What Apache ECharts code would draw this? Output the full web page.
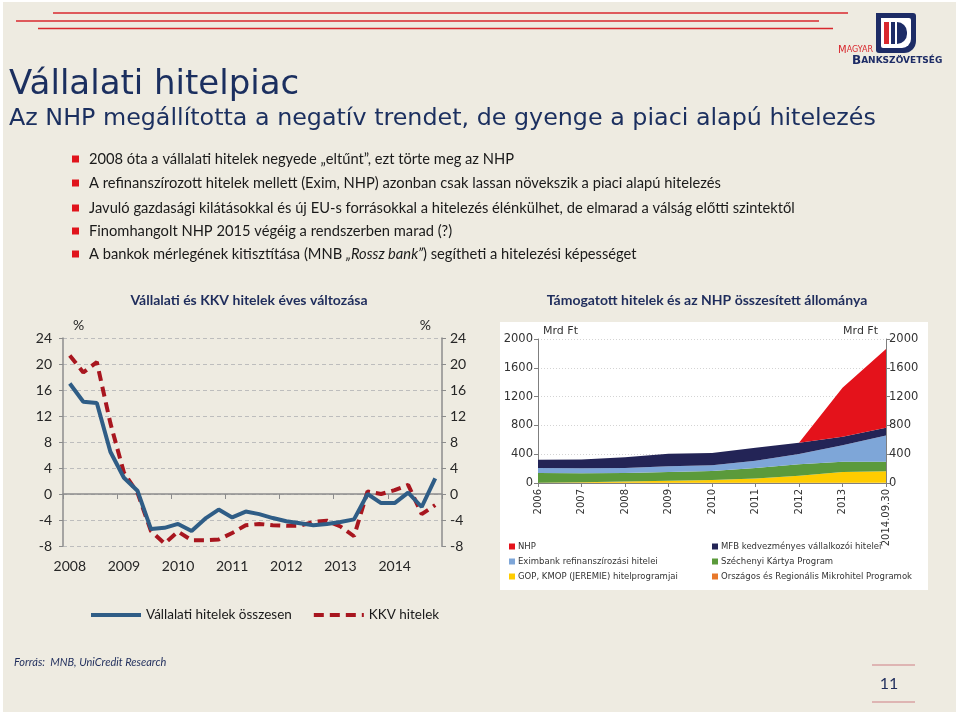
<!DOCTYPE html>
<html>
<head>
<meta charset="utf-8">
<script src="https://cdn.jsdelivr.net/npm/echarts@6/dist/echarts.min.js"></script>
<style>
html,body{margin:0;padding:0;background:#ffffff;}
#wrap{position:relative;width:960px;height:717px;overflow:hidden;}
#slide{position:absolute;left:3px;top:2px;width:953px;height:710px;background:#eeebe1;}
#whitebox{position:absolute;left:500px;top:322px;width:428px;height:268px;background:#ffffff;}
#chart{position:absolute;left:0;top:0;width:960px;height:717px;}
</style>
</head>
<body>
<div id="wrap">
  <div id="slide"></div>
  <div id="whitebox"></div>
  <div id="chart"></div>
</div>
<script>
// ---------- Left chart data (annual change, %) ----------
var quarters = ['2008Q1','2008Q2','2008Q3','2008Q4','2009Q1','2009Q2','2009Q3','2009Q4',
  '2010Q1','2010Q2','2010Q3','2010Q4','2011Q1','2011Q2','2011Q3','2011Q4',
  '2012Q1','2012Q2','2012Q3','2012Q4','2013Q1','2013Q2','2013Q3','2013Q4',
  '2014Q1','2014Q2','2014Q3','2014Q4'];
var totalLoans = [17.0, 14.2, 14.0, 6.5, 2.5, 0.5, -5.4, -5.2, -4.6, -5.7, -3.8, -2.4,
  -3.6, -2.7, -3.1, -3.7, -4.2, -4.5, -4.8, -4.6, -4.3, -3.9, 0.0, -1.4, -1.4, 0.2, -2.0, 2.4];
var smeLoans = [21.3, 18.7, 20.3, 10.9, 3.3, 0.2, -5.7, -7.6, -5.8, -7.1, -7.1, -7.0,
  -6.0, -4.8, -4.6, -4.8, -4.9, -4.9, -4.3, -4.1, -5.0, -6.5, 0.4, 0.0, 0.6, 1.4, -3.1, -1.7];
var leftTicks = [-8, -4, 0, 4, 8, 12, 16, 20, 24];

// ---------- Right chart data (stock, Mrd Ft) ----------
var years = ['2006','2007','2008','2009','2010','2011','2012','2013','2014.09.30'];
var micro     = [2, 2, 2, 2, 2, 2, 2, 2, 2];
var jeremie   = [2, 8, 18, 28, 40, 62, 98, 150, 160];
var szechenyi = [135, 125, 118, 122, 124, 145, 160, 143, 133];
var exim      = [70, 70, 70, 80, 80, 100, 143, 230, 365];
var mfb       = [115, 120, 150, 175, 170, 180, 157, 116, 106];
var nhp       = [0, 0, 0, 0, 0, 0, 0, 683, 1095];
var rightTicks = [0, 400, 800, 1200, 1600, 2000];

var bullets = [
  '2008 óta a vállalati hitelek negyede „eltűnt”, ezt törte meg az NHP',
  'A refinanszírozott hitelek mellett (Exim, NHP) azonban csak lassan növekszik a piaci alapú hitelezés',
  'Javuló gazdasági kilátásokkal és új EU-s forrásokkal a hitelezés élénkülhet, de elmarad a válság előtti szintektől',
  'Finomhangolt NHP 2015 végéig a rendszerben marad (?)',
  'A bankok mérlegének kitisztítása (MNB {i|„Rossz bank”}) segítheti a hitelezési képességet'
];

var chart = echarts.init(document.getElementById('chart'), null, {renderer: 'canvas'});

var navy = '#1b2f5f';
var graphics = [];
// top red lines
[[53, 13, 848], [16, 21, 819], [38, 28.5, 833]].forEach(function (l) {
  graphics.push({type: 'line', shape: {x1: l[0], y1: l[1], x2: l[2], y2: l[1]},
    style: {stroke: '#d8282e', lineWidth: 1.5}, silent: true});
});
// titles
graphics.push({type: 'text', style: {text: 'Vállalati hitelpiac', x: 9, y: 85, fill: navy,
  fontSize: 34, fontFamily: 'DejaVu Sans', verticalAlign: 'middle'}});
graphics.push({type: 'text', style: {text: 'Az NHP megállította a negatív trendet, de gyenge a piaci alapú hitelezés',
  x: 9, y: 119, fill: navy, fontSize: 23.8, fontFamily: 'DejaVu Sans', verticalAlign: 'middle'}});
// bullets
var bulletY = [159, 183, 208, 231, 254];
bullets.forEach(function (t, i) {
  graphics.push({type: 'rect', shape: {x: 72, y: bulletY[i] - 3.5, width: 7, height: 7},
    style: {fill: '#e0141c'}});
  graphics.push({type: 'text', style: {text: t, x: 89, y: bulletY[i], fill: '#1a1a1a',
    fontSize: 14.7, fontFamily: 'Lato', verticalAlign: 'middle',
    rich: {i: {fontStyle: 'italic', fontSize: 14.7, fontFamily: 'Lato', fill: '#1a1a1a'}}}});
});
// chart titles
graphics.push({type: 'text', style: {text: 'Vállalati és KKV hitelek éves változása', x: 249, y: 300,
  fill: '#1f2d5c', fontSize: 14, fontWeight: 'bold', fontFamily: 'Lato', align: 'center', verticalAlign: 'middle'}});
graphics.push({type: 'text', style: {text: 'Támogatott hitelek és az NHP összesített állománya', x: 707, y: 300,
  fill: '#1f2d5c', fontSize: 14, fontWeight: 'bold', fontFamily: 'Lato', align: 'center', verticalAlign: 'middle'}});
// footer
graphics.push({type: 'text', style: {text: 'Forrás:  MNB, UniCredit Research', x: 14, y: 662,
  fill: '#1f2d5c', fontSize: 11, fontStyle: 'italic', fontFamily: 'Lato', verticalAlign: 'middle'}});
graphics.push({type: 'line', shape: {x1: 872, y1: 665, x2: 915, y2: 665}, style: {stroke: '#d9a3a3', lineWidth: 1.5}});
graphics.push({type: 'line', shape: {x1: 872, y1: 702, x2: 915, y2: 702}, style: {stroke: '#d9a3a3', lineWidth: 1.5}});
graphics.push({type: 'text', style: {text: '11', x: 889, y: 684, fill: '#1f2d5c', fontSize: 16,
  fontFamily: 'Lato', align: 'center', verticalAlign: 'middle'}});
// logo
graphics.push({type: 'rect', shape: {x: 876, y: 13, width: 40, height: 40, r: [0, 3, 12, 3]}, style: {fill: '#1d2c66'}});
graphics.push({type: 'rect', shape: {x: 881, y: 18, width: 30, height: 30, r: [0, 2, 9, 2]}, style: {fill: '#ffffff'}});
graphics.push({type: 'rect', shape: {x: 884, y: 22, width: 5, height: 22}, style: {fill: '#d8282e'}});
graphics.push({type: 'rect', shape: {x: 891, y: 22, width: 4, height: 22}, style: {fill: '#1d2c66'}});
graphics.push({type: 'rect', shape: {x: 897, y: 22, width: 10, height: 22, r: [0, 11, 11, 0]}, style: {fill: '#1d2c66'}});
graphics.push({type: 'text', style: {text: '{a|M}{b|AGYAR}', x: 838, y: 50, verticalAlign: 'middle',
  rich: {a: {fontSize: 10, fontFamily: 'DejaVu Sans', fill: '#d8282e'}, b: {fontSize: 8, fontFamily: 'DejaVu Sans', fill: '#d8282e'}}}});
graphics.push({type: 'text', style: {text: '{a|B}{b|ANKSZÖVETSÉG}', x: 852, y: 61, verticalAlign: 'middle',
  rich: {a: {fontSize: 12, fontWeight: 'bold', fontFamily: 'DejaVu Sans', fill: '#1d2c66'},
         b: {fontSize: 9, fontWeight: 'bold', fontFamily: 'DejaVu Sans', fill: '#1d2c66'}}}});

var gray = '#8c8c8c';
var lblL = {fontFamily: 'Lato', fontSize: 14, color: '#262626'};
var lblR = {fontFamily: 'DejaVu Sans', fontSize: 11.5, color: '#333333', formatter: function (v) { return String(v); }};

var option = {
  animation: false,
  graphic: graphics,
  grid: [
    {left: 63, top: 338, width: 379, height: 208},
    {left: 538, top: 339, width: 348, height: 144}
  ],
  legend: [
    {data: ['Vállalati hitelek összesen', 'KKV hitelek'], left: 84, top: 603, itemWidth: 50, itemHeight: 16,
      itemGap: 20, itemStyle: {color: 'rgba(0,0,0,0)', borderWidth: 0, opacity: 0},
      lineStyle: {width: 4},
      textStyle: {fontFamily: 'Lato', fontSize: 13.5, color: '#1a1a1a'}},
    {data: ['NHP', 'Eximbank refinanszírozási hitelei', 'GOP, KMOP (JEREMIE) hitelprogramjai'],
      orient: 'vertical', left: 504, top: 537, itemWidth: 6, itemHeight: 6, itemGap: 6, icon: 'rect',
      textStyle: {fontFamily: 'DejaVu Sans', fontSize: 8.5, color: '#333333', padding: [0, 0, 0, -2]}},
    {data: ['MFB kedvezményes vállalkozói hitelei', 'Széchenyi Kártya Program', 'Országos és Regionális Mikrohitel Programok'],
      orient: 'vertical', left: 707, top: 537, itemWidth: 6, itemHeight: 6, itemGap: 6, icon: 'rect',
      textStyle: {fontFamily: 'DejaVu Sans', fontSize: 8.5, color: '#333333', padding: [0, 0, 0, -2]}}
  ],
  xAxis: [
    {gridIndex: 0, type: 'category', data: quarters, position: 'bottom', boundaryGap: true,
      axisLine: {show: false, onZero: false}, axisTick: {show: false},
      axisLabel: Object.assign({interval: 3, margin: 13, formatter: function (v) { return v.slice(0, 4); }}, lblL)},
    {gridIndex: 0, type: 'category', data: quarters, position: 'top', boundaryGap: true,
      axisLine: {show: true, onZero: true, lineStyle: {color: gray, width: 1.5}},
      axisTick: {show: true, interval: 3, inside: true, length: 5, lineStyle: {color: gray}},
      axisLabel: {show: false}},
    {gridIndex: 1, type: 'category', data: years, boundaryGap: false,
      axisLine: {lineStyle: {color: '#7f7f7f'}}, axisTick: {length: 4, lineStyle: {color: '#7f7f7f'}},
      axisLabel: {rotate: 90, margin: 6, fontFamily: 'DejaVu Sans', fontSize: 10, color: '#333333', interval: 0}}
  ],
  yAxis: [
    {gridIndex: 0, type: 'value', min: leftTicks[0], max: leftTicks[leftTicks.length - 1], interval: 4, position: 'left',
      name: '%', nameLocation: 'end', nameGap: 6,
      nameTextStyle: {fontFamily: 'Lato', fontSize: 14, color: '#262626', align: 'left', padding: [0, 0, 0, 10]},
      axisLine: {show: true, lineStyle: {color: gray, width: 1.5}}, axisTick: {show: true, length: 4, lineStyle: {color: gray}},
      axisLabel: Object.assign({margin: 11}, lblL),
      splitLine: {show: true, lineStyle: {color: '#bdbdbd', type: [4, 3], width: 1}}},
    {gridIndex: 0, type: 'value', min: leftTicks[0], max: leftTicks[leftTicks.length - 1], interval: 4, position: 'right',
      name: '%', nameLocation: 'end', nameGap: 6,
      nameTextStyle: {fontFamily: 'Lato', fontSize: 14, color: '#262626', align: 'right', padding: [0, 11, 0, 0]},
      axisLine: {show: true, lineStyle: {color: gray, width: 1.5}}, axisTick: {show: true, length: 4, lineStyle: {color: gray}},
      axisLabel: Object.assign({margin: 8}, lblL), splitLine: {show: false}},
    {gridIndex: 1, type: 'value', min: rightTicks[0], max: rightTicks[rightTicks.length - 1], interval: 400, position: 'left',
      name: 'Mrd Ft', nameLocation: 'end', nameGap: 2,
      nameTextStyle: {fontFamily: 'DejaVu Sans', fontSize: 11, color: '#333333', align: 'left', padding: [0, 0, 0, 5]},
      axisLine: {show: true, lineStyle: {color: '#7f7f7f'}}, axisTick: {show: true, length: 4, lineStyle: {color: '#7f7f7f'}},
      axisLabel: Object.assign({margin: 5}, lblR),
      splitLine: {show: true, lineStyle: {color: '#d4d4d4', type: [1, 2]}}},
    {gridIndex: 1, type: 'value', min: rightTicks[0], max: rightTicks[rightTicks.length - 1], interval: 400, position: 'right',
      name: 'Mrd Ft', nameLocation: 'end', nameGap: 2,
      nameTextStyle: {fontFamily: 'DejaVu Sans', fontSize: 11, color: '#333333', align: 'right', padding: [0, 8, 0, 0]},
      axisLine: {show: true, lineStyle: {color: '#7f7f7f'}}, axisTick: {show: true, length: 4, lineStyle: {color: '#7f7f7f'}},
      axisLabel: Object.assign({margin: 3}, lblR), splitLine: {show: false}}
  ],
  series: [
    {name: 'Vállalati hitelek összesen', type: 'line', xAxisIndex: 0, yAxisIndex: 0, data: totalLoans,
      symbol: 'none', color: '#2f5d86', lineStyle: {width: 4, color: '#2f5d86'}, z: 4},
    {name: 'KKV hitelek', type: 'line', xAxisIndex: 0, yAxisIndex: 0, data: smeLoans,
      symbol: 'none', color: '#a8161f', lineStyle: {width: 4, color: '#a8161f', type: [10, 6]}, z: 3},

    {name: 'Országos és Regionális Mikrohitel Programok', type: 'line', stack: 's', xAxisIndex: 2, yAxisIndex: 2,
      data: micro, symbol: 'none', lineStyle: {width: 0}, itemStyle: {color: '#e8782a'}, areaStyle: {color: '#e8782a', opacity: 1}},
    {name: 'GOP, KMOP (JEREMIE) hitelprogramjai', type: 'line', stack: 's', xAxisIndex: 2, yAxisIndex: 2,
      data: jeremie, symbol: 'none', lineStyle: {width: 0}, itemStyle: {color: '#ffcc00'}, areaStyle: {color: '#ffcc00', opacity: 1}},
    {name: 'Széchenyi Kártya Program', type: 'line', stack: 's', xAxisIndex: 2, yAxisIndex: 2,
      data: szechenyi, symbol: 'none', lineStyle: {width: 0}, itemStyle: {color: '#5b9a3b'}, areaStyle: {color: '#5b9a3b', opacity: 1}},
    {name: 'Eximbank refinanszírozási hitelei', type: 'line', stack: 's', xAxisIndex: 2, yAxisIndex: 2,
      data: exim, symbol: 'none', lineStyle: {width: 0}, itemStyle: {color: '#7ea6d8'}, areaStyle: {color: '#7ea6d8', opacity: 1}},
    {name: 'MFB kedvezményes vállalkozói hitelei', type: 'line', stack: 's', xAxisIndex: 2, yAxisIndex: 2,
      data: mfb, symbol: 'none', lineStyle: {width: 0}, itemStyle: {color: '#232456'}, areaStyle: {color: '#232456', opacity: 1}},
    {name: 'NHP', type: 'line', stack: 's', xAxisIndex: 2, yAxisIndex: 2,
      data: nhp, symbol: 'none', lineStyle: {width: 0}, itemStyle: {color: '#e4121b'}, areaStyle: {color: '#e4121b', opacity: 1}}
  ]
};
chart.setOption(option);
</script>
</body>
</html>
